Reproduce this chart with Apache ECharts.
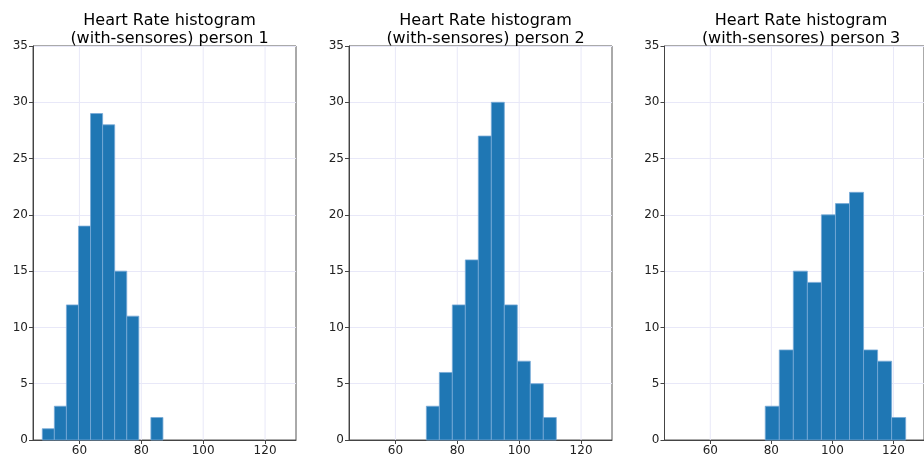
<!DOCTYPE html>
<html>
<head>
<meta charset="utf-8">
<script src="https://cdn.jsdelivr.net/npm/echarts@6/dist/echarts.min.js"></script>
<style>
html,body{margin:0;padding:0;background:#fff;overflow:hidden;}
#c{width:924px;height:457px;}
</style>
</head>
<body>
<div id="c"></div>
<script>
// Titles
const titles = [
  "Heart Rate histogram\n(with-sensores) person 1",
  "Heart Rate histogram\n(with-sensores) person 2",
  "Heart Rate histogram\n(with-sensores) person 3"
];
// Bin edges
const edges1 = [48, 51.9, 55.8, 59.7, 63.6, 67.5, 71.4, 75.3, 79.2, 83.1, 87.0];
const counts1 = [1, 3, 12, 19, 29, 28, 15, 11, 0, 2];
const edges2 = [70.0, 74.2, 78.4, 82.6, 86.8, 91.0, 95.2, 99.4, 103.6, 107.8, 112.0];
const counts2 = [3, 6, 12, 16, 27, 30, 12, 7, 5, 2];
const edges3 = [78.0, 82.6, 87.2, 91.8, 96.4, 101.0, 105.6, 110.2, 114.8, 119.4, 124.0];
const counts3 = [3, 8, 15, 14, 20, 21, 22, 8, 7, 2];
const xTicks = [60, 80, 100, 120];
const yTicks = [0, 5, 10, 15, 20, 25, 30, 35];

const panels = [
  {edges: edges1, counts: counts1},
  {edges: edges2, counts: counts2},
  {edges: edges3, counts: counts3}
];
const lefts = [33, 349, 664.5];
const plotW = 263;
const font = 'DejaVu Sans';

const chart = echarts.init(document.getElementById('c'), null, {renderer: 'canvas'});

const grids = [], xAxes = [], yAxes = [], series = [], titleOpts = [];
panels.forEach((p, i) => {
  grids.push({left: lefts[i], width: plotW, top: 46, bottom: 14, containLabel: false,
    show: true, borderColor: '#555', borderWidth: 1, backgroundColor: 'transparent'});
  titleOpts.push({
    text: titles[i], left: lefts[i] + plotW / 2, top: 7, textAlign: 'center',
    textStyle: {fontFamily: font, fontSize: 16, fontWeight: 'normal', color: '#000', lineHeight: 18}
  });
  xAxes.push({
    type: 'value', gridIndex: i, min: 45, max: 130, interval: 20,
    axisLine: {show: true, onZero: false, lineStyle: {color: '#444'}},
    axisLabel: {fontFamily: font, fontSize: 12, color: '#222', margin: 5,
      customValues: xTicks},
    axisTick: {show: true, length: 4, lineStyle: {color: '#444'}, customValues: xTicks},
    splitLine: {show: false}
  });
  yAxes.push({
    type: 'value', gridIndex: i, min: 0, max: 35, interval: 5,
    axisLine: {show: true, lineStyle: {color: '#444'}},
    axisTick: {show: true, length: 4, lineStyle: {color: '#444'}},
    axisLabel: {fontFamily: font, fontSize: 12, color: '#222', margin: 5},
    splitLine: {show: true, lineStyle: {color: '#e8e8f8', width: 1}}
  });
  // vertical grid lines at x ticks
  series.push({
    type: 'custom', xAxisIndex: i, yAxisIndex: i, silent: true, z: 0,
    data: xTicks.map(v => [v]),
    renderItem: function (params, api) {
      const top = api.coord([api.value(0), 35]);
      const bot = api.coord([api.value(0), 0]);
      return {type: 'line', shape: {x1: top[0], y1: top[1], x2: bot[0], y2: bot[1]},
        style: {stroke: '#e8e8f8', lineWidth: 1}};
    }
  });
  const data = p.counts.map((c, k) => [p.edges[k], p.edges[k + 1], c]);
  series.push({
    type: 'custom', xAxisIndex: i, yAxisIndex: i, z: 2,
    data: data,
    encode: {x: [0, 1], y: 2},
    renderItem: function (params, api) {
      const a = api.coord([api.value(0), api.value(2)]);
      const b = api.coord([api.value(1), 0]);
      if (api.value(2) <= 0) return null;
      return {type: 'rect', shape: {x: a[0], y: a[1], width: b[0] - a[0], height: b[1] - a[1]},
        style: {fill: '#1f77b4', stroke: 'rgba(120,170,215,0.8)', lineWidth: 1}};
    }
  });
});

chart.setOption({
  animation: false,
  backgroundColor: '#fff',
  title: titleOpts,
  grid: grids,
  xAxis: xAxes,
  yAxis: yAxes,
  series: series
});
</script>
</body>
</html>
